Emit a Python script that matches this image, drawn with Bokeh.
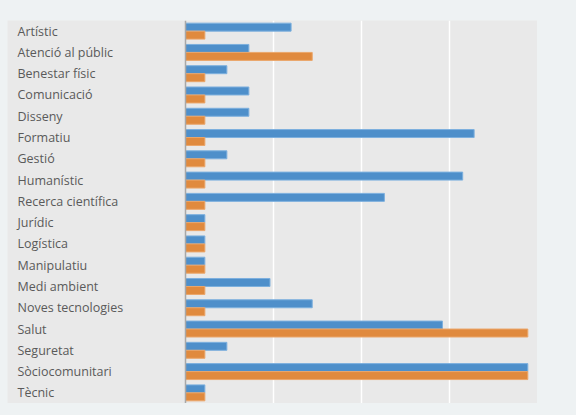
from bokeh.plotting import figure
from bokeh.models import FactorRange, Span, FixedTicker, ColumnDataSource
from bokeh.transform import dodge
from bokeh.core.properties import value
from bokeh.layouts import column
from bokeh.embed import file_html
from bokeh.resources import INLINE

categories = ["Artístic", "Atenció al públic", "Benestar físic", "Comunicació",
              "Disseny", "Formatiu", "Gestió", "Humanístic", "Recerca científica",
              "Jurídic", "Logística", "Manipulatiu", "Medi ambient",
              "Noves tecnologies", "Salut", "Seguretat", "Sòciocomunitari", "Tècnic"]
blue_values = [6.0, 3.6, 2.35, 3.6, 3.6, 16.4, 2.35, 15.75, 11.3,
               1.1, 1.1, 1.1, 4.8, 7.2, 14.6, 2.35, 19.45, 1.1]
orange_values = [1.1, 7.2, 1.1, 1.1, 1.1, 1.1, 1.1, 1.1, 1.1,
                 1.1, 1.1, 1.1, 1.1, 1.1, 19.45, 1.1, 19.45, 1.1]
grid_ticks = [5, 10, 15]
x_max = 20

PX_PER_UNIT = 17.6
LABEL_AREA_PX = 178
LABEL_INSET_PX = 10

x_start = -LABEL_AREA_PX / PX_PER_UNIT
label_x = x_start + LABEL_INSET_PX / PX_PER_UNIT

src = ColumnDataSource(dict(cat=categories, blue=blue_values, orange=orange_values,
                            lx=[label_x] * len(categories)))

p = figure(width=530, height=383, x_range=(x_start, x_max),
           y_range=FactorRange(*reversed(categories)),
           output_backend="svg", toolbar_location=None, min_border=0)
p.margin = (20, 0, 0, 7)
p.background_fill_color = "#e9e9e9"
p.border_fill_color = "#e9e9e9"
p.outline_line_color = None
p.xaxis.visible = False
p.yaxis.visible = False
p.ygrid.grid_line_color = None
p.xgrid.ticker = FixedTicker(ticks=grid_ticks)
p.xgrid.grid_line_color = "#ffffff"
p.xgrid.grid_line_width = 1.5

p.hbar(y=dodge("cat", 0.1875, range=p.y_range), left=0, right="blue", height=0.375,
       source=src, fill_color="#4e8fca", line_color="#7db0de", line_width=1)
p.hbar(y=dodge("cat", -0.1875, range=p.y_range), left=0, right="orange", height=0.375,
       source=src, fill_color="#e08a3e", line_color="#eba66a", line_width=1)

p.add_layout(Span(location=0, dimension="height", line_color="#a8a8a8", line_width=1.5))

p.text(x="lx", y="cat", text="cat", source=src, text_align="left",
       text_baseline="middle", text_font=value("Open Sans"), text_font_size="12.5px",
       text_color="#5a5a5a")

layout = column(p, width=576, height=415, styles={"background-color": "#eef2f3"})

open("out.html", "w").write(file_html(layout, INLINE))
